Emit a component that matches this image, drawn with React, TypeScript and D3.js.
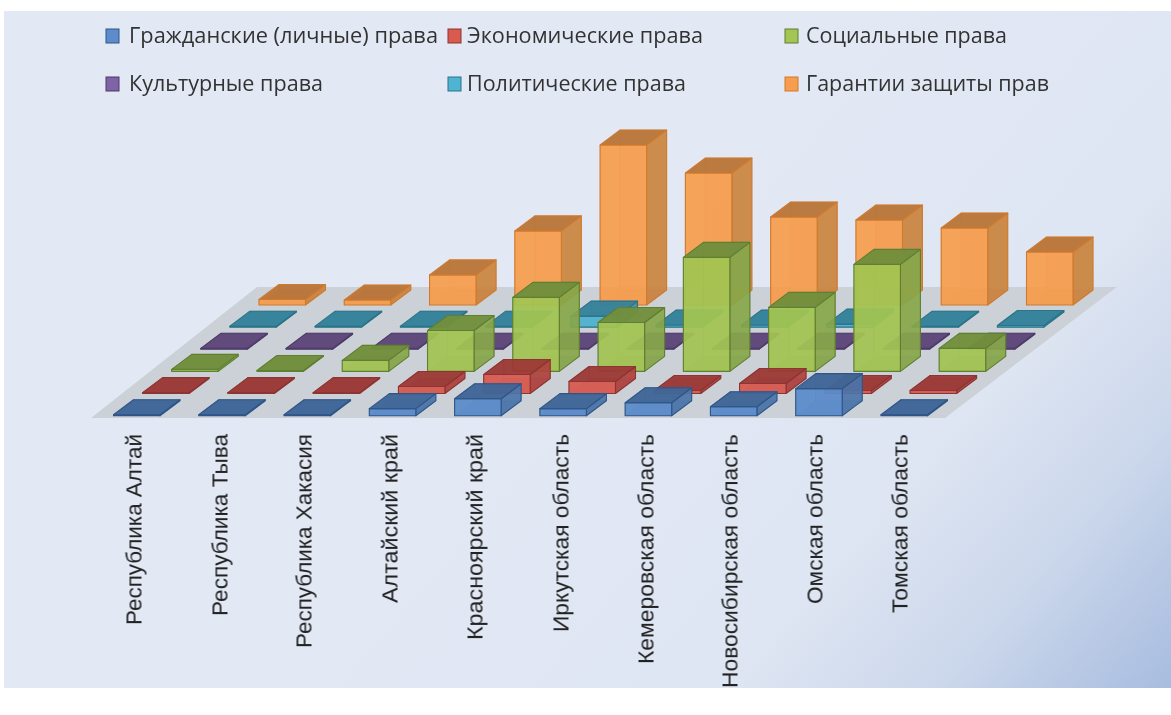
import React from "react";
import * as d3 from "d3";

const categories = ["Республика Алтай","Республика Тыва","Республика Хакасия","Алтайский край","Красноярский край","Иркутская область","Кемеровская область","Новосибирская область","Омская область","Томская область"];
const seriesNames = ["Гражданские (личные) права","Экономические права","Социальные права","Культурные права","Политические права","Гарантии защиты прав"];
const civil = [0.6,0.6,0.6,4.4,10.6,4.4,8.1,5.6,16.9,0.6];
const economic = [0.6,0.6,0.6,4.4,11.9,7.5,1.9,6.3,1.9,1.9];
const social = [1.3,0.6,6.9,25.6,46.3,30.6,71.3,40,66.9,14.4];
const cultural = [0.6,0.6,0.6,0.6,0.6,0.6,0.6,0.6,0.6,0.6];
const political = [0.6,0.6,0.6,0.6,6.9,1.3,1.3,1.9,0.6,1.0];
const guarantees = [3.4,3.1,18.8,46.3,100,82.5,55,53.1,48.1,33.1];
const seriesValues = [civil, economic, social, cultural, political, guarantees];

const fronts = ["#5b8ccb","#d95a50","#a3c552","#7f63a4","#4fb4d2","#f79d4d"];
const sides = ["#4a74aa","#ad423d","#87a64a","#674f88","#3e92ab","#c9843f"];
const tops = ["#3f6697","#9c3a36","#718e3c","#5e4879","#35829a","#b9753a"];
const strokes = ["#2f5688","#8d3431","#5f7f30","#4e3b69","#2c7389","#d07a2e"];

const legendCols = [106, 448, 785];
const legendRows = [36, 84];
const legendText = [129, 467, 806];
const legendLens = [309, 236, 201, 194, 219, 243];
const labelX = [134,220,304,390,475,561,646,730,815,900];
const labelLens = [191,182,214,169,206,198,230,254,170,179];

const catX = d3.scaleLinear().domain([0, 9]).range([113.5, 881]);
const rowDx = d3.scaleLinear().domain([0, 5]).range([0, 145.5]);
const rowY = d3.scaleLinear().domain([0, 5]).range([415.7, 305]);
const valH = d3.scaleLinear().domain([0, 100]).range([0, 160]);
const BW = 46.5, DX = 20, DY = 15;
const line = d3.line();
const poly = (p: [number, number][]) => line(p)! + "Z";

function Box({ s, c, v }: { s: number; c: number; v: number }) {
  const x = catX(c) + rowDx(s), y = rowY(s), h = valH(v);
  const a: [number, number] = [x, y], b: [number, number] = [x + BW, y];
  const at = (p: [number, number], dep: number, up: number): [number, number] => [p[0] + dep * DX, p[1] - dep * DY - up];
  const common = { stroke: strokes[s], strokeWidth: 1.1, strokeLinejoin: "round" as const };
  return (
    <g>
      <path d={poly([at(a,1,0),at(b,1,0),at(b,1,h),at(a,1,h)])} fill={sides[s]} fillOpacity={0.35} stroke={strokes[s]} strokeOpacity={0.3} />
      <path d={poly([a,at(a,1,0),at(a,1,h),at(a,0,h)])} fill={sides[s]} fillOpacity={0.3} stroke={strokes[s]} strokeOpacity={0.3} />
      <path d={poly([a,b,at(b,1,0),at(a,1,0)])} fill={tops[s]} fillOpacity={0.5} stroke="none" />
      <path d={poly([b,at(b,1,0),at(b,1,h),at(b,0,h)])} fill={sides[s]} fillOpacity={0.88} {...common} />
      <path d={poly([a,b,at(b,0,h),at(a,0,h)])} fill={fronts[s]} fillOpacity={0.9} {...common} />
      <path d={poly([at(a,0,h),at(b,0,h),at(b,1,h),at(a,1,h)])} fill={tops[s]} fillOpacity={0.95} {...common} />
    </g>
  );
}

export default function App() {
  return (
    <svg width={1171} height={715} style={{ position: "absolute", left: 0, top: 0, background: "#fff" }}>
      <defs>
        <linearGradient id="bg" gradientUnits="userSpaceOnUse" x1={640} y1={240} x2={1171} y2={700}>
          <stop offset="0" stopColor="#e2e9f5" />
          <stop offset="0.5" stopColor="#dfe6f3" />
          <stop offset="0.74" stopColor="#cbd7eb" />
          <stop offset="1" stopColor="#a6bbdf" />
        </linearGradient>
        <filter id="soft" x="-5%" y="-5%" width="110%" height="110%">
          <feGaussianBlur stdDeviation="0.6" />
        </filter>
      </defs>
      <rect x={4} y={11} width={1167} height={677} fill="url(#bg)" />
      <g filter="url(#soft)">
        <path d={poly([[91,418],[945,418],[1117,287],[257,287]])} fill="#ccd1d8" />
        {d3.range(5, -1, -1).map((s) => (
          <g key={s}>
            {seriesValues[s].map((v, c) => <Box key={c} s={s} c={c} v={v} />)}
          </g>
        ))}
        {seriesNames.map((n, i) => {
          const col = i % 3, cy = legendRows[Math.floor(i / 3)];
          return (
            <g key={n}>
              <rect x={legendCols[col]} y={cy - 7} width={13} height={14} fill={fronts[i]} stroke={strokes[i]} />
              <text x={legendText[col]} y={cy + 7} fontFamily="'Open Sans', sans-serif" fontSize={22} fill="#333" textLength={legendLens[i]} lengthAdjust="spacingAndGlyphs">{n}</text>
            </g>
          );
        })}
        {categories.map((n, i) => (
          <text key={n} transform={`translate(${labelX[i] + 7.5},434) rotate(-90)`} textAnchor="end" fontFamily="'Liberation Sans', sans-serif" fontSize={21.5} fill="#222" textLength={labelLens[i]} lengthAdjust="spacingAndGlyphs">{n}</text>
        ))}
      </g>
    </svg>
  );
}
